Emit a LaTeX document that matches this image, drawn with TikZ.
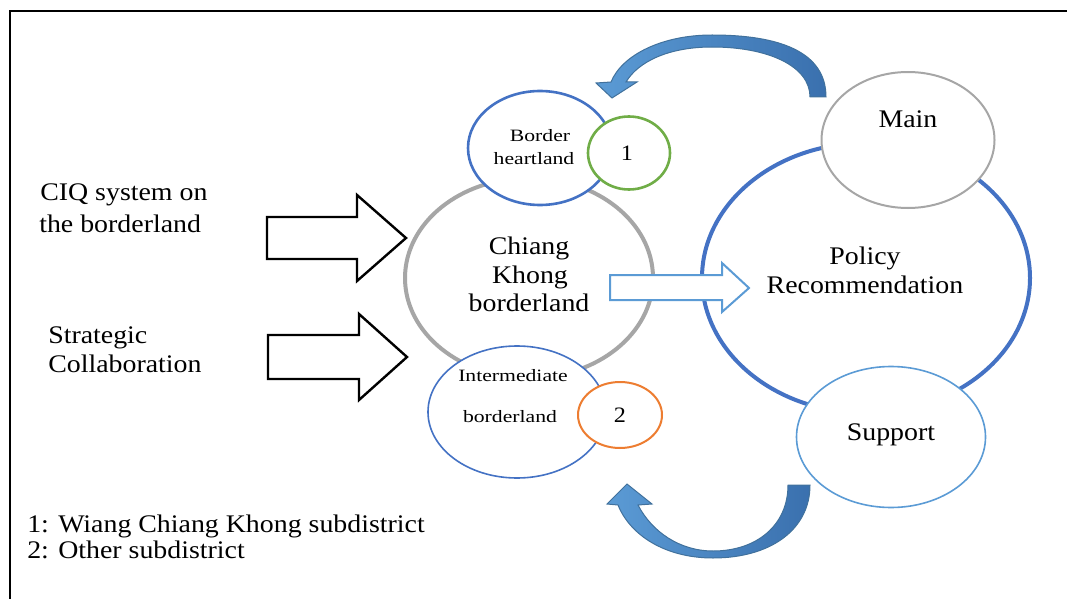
\documentclass[tikz,border=0pt]{standalone}
\usepackage{fontspec}
\setmainfont{Liberation Serif}
\usetikzlibrary{shapes.geometric}
\definecolor{cblue}{HTML}{4472C4}
\definecolor{clight}{HTML}{5B9BD5}
\definecolor{cgray}{HTML}{A6A6A6}
\definecolor{cgreen}{HTML}{70AD47}
\definecolor{corange}{HTML}{ED7D31}
\definecolor{carrowA}{HTML}{5B9BD5}
\definecolor{carrowB}{HTML}{3A70AE}
\definecolor{carrowE}{HTML}{41719C}
\def\px{0.75pt}
\begin{document}
\begin{tikzpicture}[x=0.75pt,y=-0.75pt,
  circ/.style={ellipse, inner sep=0pt, outer sep=0pt, fill=white},
  lbl/.style={inner sep=0pt, text=black, font=\fontsize{19}{22}\selectfont, xscale=1.1},
  sml/.style={inner sep=0pt, text=black, font=\fontsize{13}{15}\selectfont, xscale=1.25},
  num/.style={inner sep=0pt, text=black, font=\fontsize{16.5}{19}\selectfont, xscale=1.1},
  blockarrow/.style={draw=black, line width=2.4*\px, fill=white, line join=miter},
  hollowarrow/.style={draw=clight, line width=2*\px, fill=white, line join=miter},
  curvedarrow/.style={left color=carrowA, right color=carrowB, draw=carrowE, line width=1*\px, line join=miter}
]
\useasboundingbox (0,0) rectangle (1067,599);
% frame
\draw[line width=2*\px] (1067,11) -- (10,11) -- (10,599);

% right cluster
\node[circ, draw=cblue, line width=4*\px, minimum width=328*\px, minimum height=270*\px] (policy) at (866,278) {};
\node[circ, draw=cgray, line width=2*\px, minimum width=173*\px, minimum height=136*\px] (main) at (908,140) {};
\node[circ, draw=clight, line width=1.6*\px, minimum width=189*\px, minimum height=141*\px] (support) at (891,437) {};

% central cluster
\node[circ, draw=cgray, line width=4*\px, minimum width=248*\px, minimum height=200*\px] (chiang) at (529,278) {};
\node[circ, draw=cblue, line width=2.6*\px, minimum width=144*\px, minimum height=114*\px] (heart) at (540,148) {};
\node[circ, draw=cgreen, line width=2.6*\px, minimum width=82*\px, minimum height=73*\px] (one) at (629,153) {};
\node[circ, draw=cblue, line width=1.6*\px, minimum width=178*\px, minimum height=132*\px] (inter) at (517,412) {};
\node[circ, draw=corange, line width=2*\px, minimum width=84*\px, minimum height=66*\px] (two) at (620,415) {};

% hollow arrow
\draw[hollowarrow] (610,275) -- (722,275) -- (722,263) -- (749,288) -- (722,312) -- (722,300) -- (610,300) -- cycle;

% left block arrows
\draw[blockarrow] (267,217) -- (357,217) -- (357,195) -- (406,238) -- (357,281) -- (357,259) -- (267,259) -- cycle;
\draw[blockarrow] (268,335) -- (359,335) -- (359,314) -- (407,357) -- (359,400) -- (359,379) -- (268,379) -- cycle;

% curved arrows
\draw[curvedarrow] (826,97) .. controls (826,52) and (780,35) .. (712,35)
  .. controls (662,35) and (622,55) .. (611,82) -- (596,83) -- (612,98) -- (637,82) -- (626,82)
  .. controls (638,62) and (668,47) .. (712,47)
  .. controls (768,47) and (810,66) .. (810,97) -- cycle;
\draw[curvedarrow] (810,485) .. controls (810,530) and (770,558) .. (713,558)
  .. controls (665,558) and (630,535) .. (618,505) -- (607,504) -- (627,484) -- (652,504) -- (638,505)
  .. controls (652,532) and (680,551) .. (713,551)
  .. controls (757,551) and (788,525) .. (788,485) -- cycle;

% texts
\node[lbl, anchor=base west] (ciqa) at (40,200) {CIQ system on};
\node[lbl, anchor=base west] (ciqb) at (39,232) {the borderland};
\node[lbl, anchor=base west] (stra) at (48,343) {Strategic};
\node[lbl, anchor=base west] (strb) at (48,372) {Collaboration};
\node[lbl, anchor=base west] (lega) at (27,532) {1: Wiang Chiang Khong subdistrict};
\node[lbl, anchor=base west] (legb) at (27,558) {2: Other subdistrict};

\node[lbl, anchor=base] (cka) at (529,254) {Chiang};
\node[lbl, anchor=base] (ckb) at (530,283) {Khong};
\node[lbl, anchor=base] (ckc) at (529,311) {borderland};

\node[sml, anchor=base] (bha) at (540,142) {Border};
\node[sml, anchor=base] (bhb) at (534,165) {heartland};
\node[num] (onet) at (627,153) {1};
\node[sml, anchor=base] (iba) at (513,381) {Intermediate};
\node[sml, anchor=base] (ibb) at (510,422) {borderland};
\node[num] (twot) at (620,415) {2};

\node[lbl, anchor=base] (pra) at (865,264) {Policy};
\node[lbl, anchor=base] (prb) at (865,293) {Recommendation};
\node[lbl, anchor=base] (maint) at (908,128) {Main};
\node[lbl, anchor=base] (suppt) at (891,440) {Support};
\end{tikzpicture}
\end{document}
